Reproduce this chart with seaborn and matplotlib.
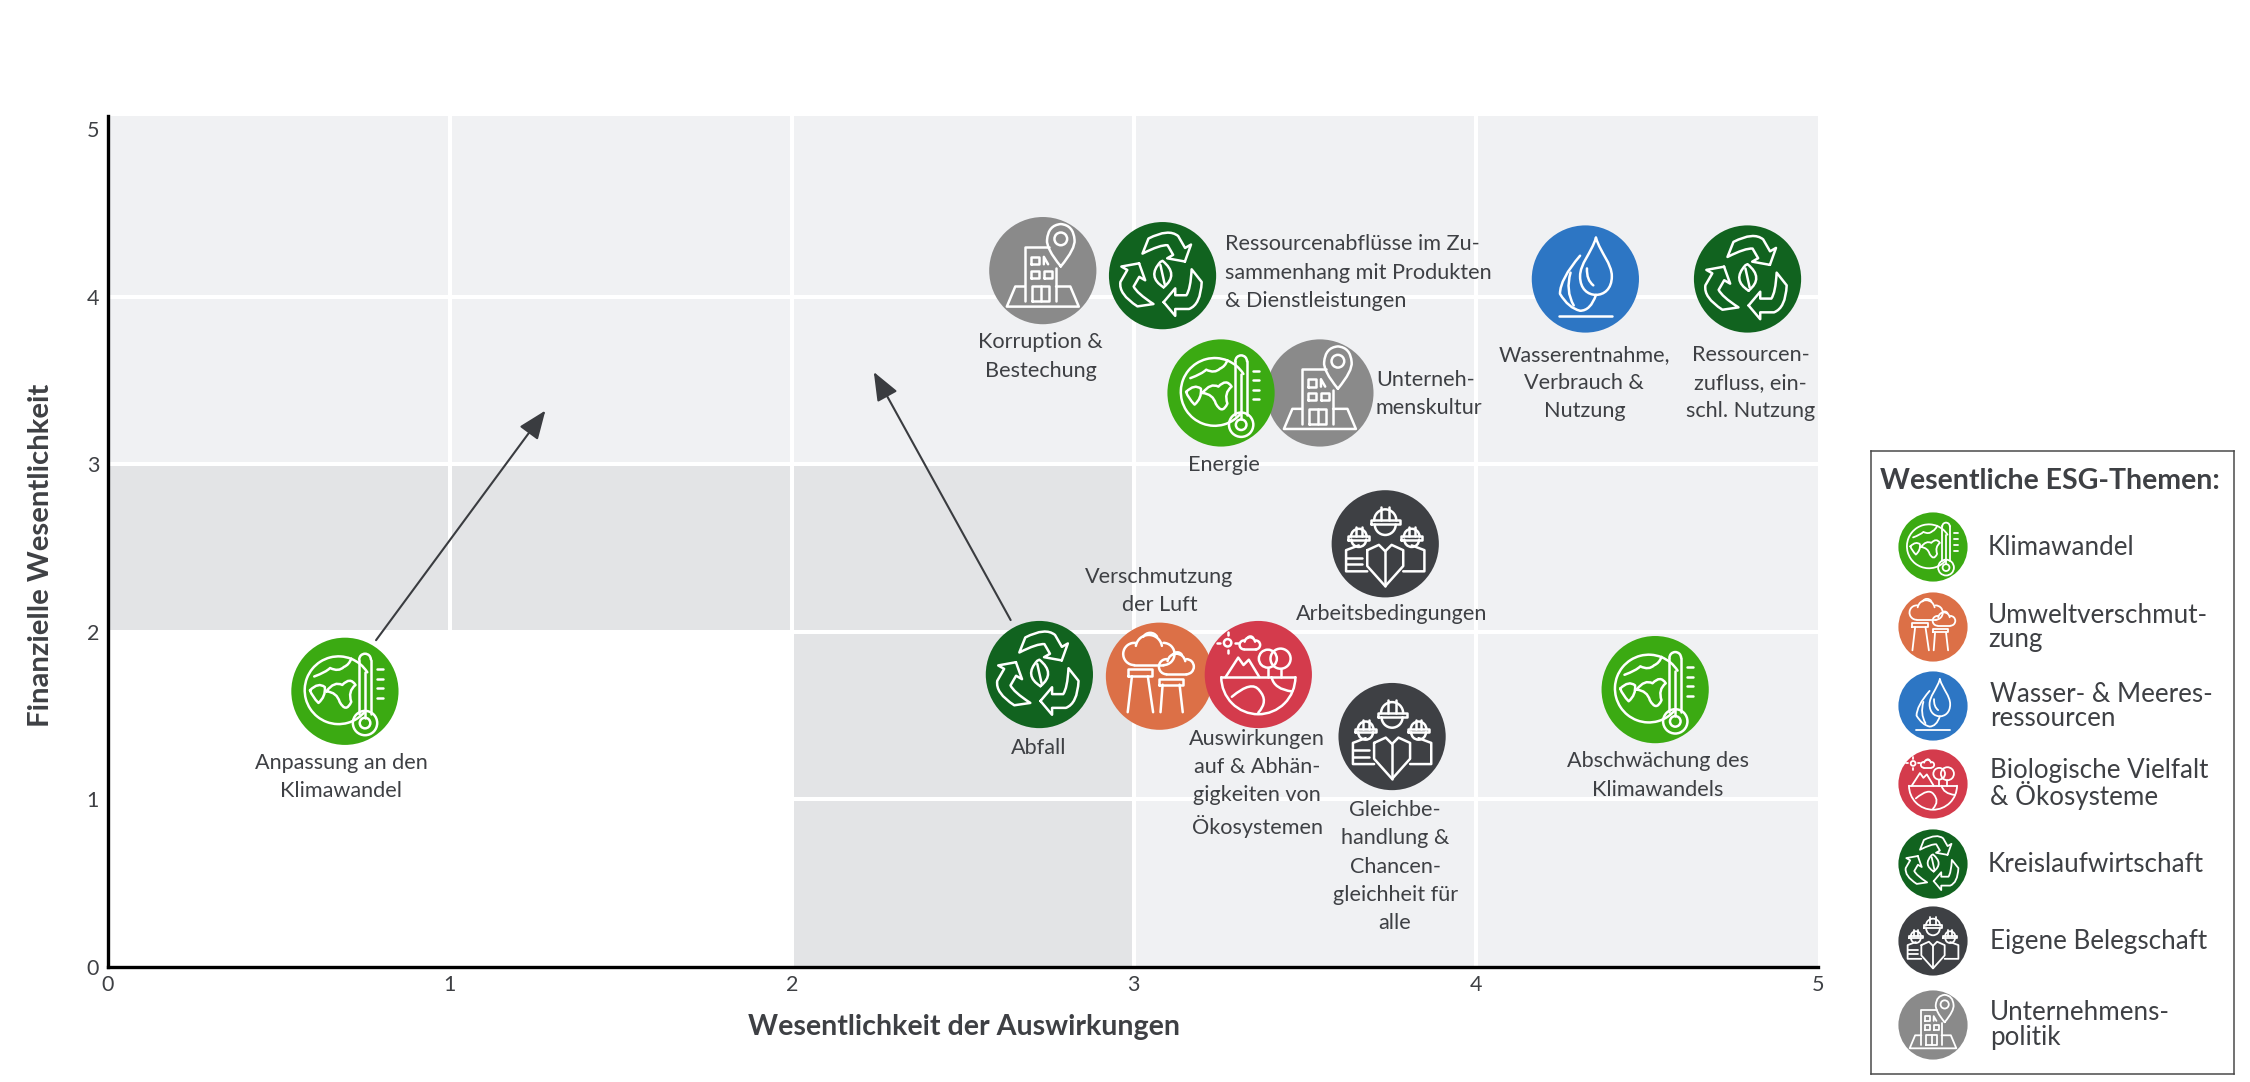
import numpy as np
import pandas as pd
import matplotlib
matplotlib.use("Agg")
import matplotlib.pyplot as plt
import seaborn as sns
from matplotlib.colors import ListedColormap
from matplotlib.patches import PathPatch
from matplotlib.path import Path
from matplotlib.transforms import Affine2D

# ---------- data ----------
topics = ["Anpassung an den\nKlimawandel", "Korruption &\nBestechung",
          "Ressourcenabflüsse im Zu-\nsammenhang mit Produkten\n& Dienstleistungen",
          "Wasserentnahme,\nVerbrauch &\nNutzung", "Ressourcen-\nzufluss, ein-\nschl. Nutzung",
          "Unterneh-\nmenskultur", "Energie", "Arbeitsbedingungen",
          "Verschmutzung\nder Luft", "Auswirkungen\nauf & Abhän-\ngigkeiten von\nÖkosystemen",
          "Abfall", "Gleichbe-\nhandlung &\nChancen-\ngleichheit für\nalle",
          "Abschwächung des\nKlimawandels"]
impact = [0.694, 2.734, 3.084, 4.32, 4.794, 3.544, 3.255, 3.735, 3.075, 3.364, 2.724, 3.755, 4.524]
financial = [1.645, 4.155, 4.125, 4.105, 4.105, 3.425, 3.425, 2.525, 1.735, 1.745, 1.745, 1.375, 1.655]
groups = ["Klimawandel", "Unternehmenspolitik", "Kreislaufwirtschaft", "Wasser", "Kreislaufwirtschaft",
          "Unternehmenspolitik", "Klimawandel", "Belegschaft", "Umwelt", "Bio", "Kreislaufwirtschaft",
          "Belegschaft", "Klimawandel"]
legend_keys = ["Klimawandel", "Umwelt", "Wasser", "Bio", "Kreislaufwirtschaft", "Belegschaft", "Unternehmenspolitik"]
legend_labels = ["Klimawandel", "Umweltverschmut-\nzung", "Wasser- & Meeres-\nressourcen",
                 "Biologische Vielfalt\n& Ökosysteme", "Kreislaufwirtschaft", "Eigene Belegschaft",
                 "Unternehmens-\npolitik"]
legend_title = "Wesentliche ESG-Themen:"
xlabel = "Wesentlichkeit der Auswirkungen"
ylabel = "Finanzielle Wesentlichkeit"
ticks = [0, 1, 2, 3, 4, 5]
arrow_starts = [(0.785, 1.95), (2.64, 2.07)]
arrow_ends = [(1.28, 3.32), (2.24, 3.55)]
# background bands: 0 white, 1 light, 2 darker; rows run from y=0 upward
zones = [[0, 0, 2, 1, 1],
         [0, 0, 2, 1, 1],
         [2, 2, 2, 1, 1],
         [1, 1, 1, 1, 1],
         [1, 1, 1, 1, 1]]

# ---------- styles ----------
palette = {"Klimawandel": "#3BAA12", "Umwelt": "#DC7047", "Wasser": "#2D76C4", "Bio": "#D43B4C",
           "Kreislaufwirtschaft": "#11631F", "Belegschaft": "#3E4044", "Unternehmenspolitik": "#8A8A8A"}
TXT = "#3E4044"
# label offset from bubble centre in full-size px (dx, dy downward) and alignment
label_layout = [(-4, 86, "center"), (-2, 86, "center"), (62, -3, "left"), (-1, 104, "center"),
                (3, 104, "center"), (56, 1, "left"), (3, 72, "center"), (6, 70, "center"),
                (0, -85, "center"), (-1, 109, "center"), (-1, 73, "center"), (3, 130, "center"),
                (3, 86, "center")]

sns.set_theme(style="white")
plt.rcParams["font.family"] = ["Lato", "DejaVu Sans"]
W, H = 2250, 1082
fig = plt.figure(figsize=(W / 100, H / 100), dpi=100, facecolor="white")
x0, x5, y0, ytop = 107.5, 1818, 967, 116
ax = fig.add_axes([x0 / W, 1 - y0 / H, (x5 - x0) / W, (y0 - ytop) / H])
ax.set_xlim(0, 5)
ax.set_ylim(0, (y0 - ytop) / 167.6)

# ---------- icons (unit circle coordinates, y up) ----------
def poly(*pts, close=False):
    v = list(pts) + ([pts[0]] if close else [])
    return Path(v, [Path.MOVETO] + [Path.LINETO] * (len(v) - 1))

def circ(cx, cy, r):
    return Path.circle((cx, cy), r)

def rect(a, b, c, d):
    return poly((a, b), (c, b), (c, d), (a, d), close=True)

def arc(cx, cy, r, a, b):
    return Path.arc(a, b).transformed(Affine2D().scale(r).translate(cx, cy))

def smooth(*pts):
    v = list(pts)
    if (len(v) - 1) % 2:
        v.append(v[-1])
    return Path(v, [Path.MOVETO] + [Path.CURVE3] * (len(v) - 1))

def drop(cx, cy, w, h):
    k = Path.CURVE4
    v = [(cx, cy + h), (cx - w * .3, cy + h * .45), (cx - w, cy + h * .1), (cx - w, cy - h * .35),
         (cx - w, cy - h * .8), (cx - w * .5, cy - h), (cx, cy - h),
         (cx + w * .5, cy - h), (cx + w, cy - h * .8), (cx + w, cy - h * .35),
         (cx + w, cy + h * .1), (cx + w * .3, cy + h * .45), (cx, cy + h)]
    return Path(v, [Path.MOVETO] + [k] * 12)

def cloud(cx, cy, s):
    return [arc(cx - .55 * s, cy, .42 * s, 80, 270), arc(cx, cy + .22 * s, .5 * s, 10, 170),
            arc(cx + .55 * s, cy, .42 * s, -90, 90), arc(cx + .05 * s, cy + .5 * s, .3 * s, 30, 150),
            poly((cx - .55 * s, cy - .42 * s), (cx + .55 * s, cy - .42 * s))]

def worker(cx, cy, s):
    return [arc(cx, cy + .02 * s, .19 * s, 0, 180), rect(cx - .25 * s, cy - .05 * s, cx + .25 * s, cy + .03 * s),
            arc(cx, cy - .05 * s, .18 * s, 180, 360),
            poly((cx - .07 * s, cy + .03 * s), (cx - .07 * s, cy + .25 * s)),
            poly((cx + .07 * s, cy + .03 * s), (cx + .07 * s, cy + .25 * s))]

_arm = Path([(.02, -.5), (.24, -.76), (.24, -.63), (.5, -.63), (.72, -.55), (.74, -.12), (.55, .12),
             (.53, -.26), (.45, -.37), (.24, -.37), (.24, -.24), (.02, -.5)],
            [Path.MOVETO, Path.LINETO, Path.LINETO, Path.LINETO, Path.CURVE3, Path.CURVE3, Path.LINETO,
             Path.CURVE3, Path.CURVE3, Path.LINETO, Path.LINETO, Path.LINETO])

ICONS = {
    "Klimawandel": [
        arc(-.12, .02, .64, 32, 322),
        smooth((-.58, .28), (-.36, .36), (-.28, .44), (-.12, .36), (-.02, .46), (.08, .5), (.12, .62)),
        smooth((-.66, .02), (-.5, .18), (-.38, .08), (-.36, -.1), (-.5, -.22), (-.62, -.1), (-.66, .02)),
        smooth((-.35, .0), (-.2, .2), (-.05, .12), (.1, .28), (.2, .12), (.05, .0), (.12, -.2), (.02, -.42), (-.1, -.2), (-.15, -.02), (-.35, .0)),
        poly((.27, -.42), (.27, .6)), arc(.38, .6, .11, 0, 180), poly((.49, .6), (.49, -.42)),
        circ(.38, -.6, .23), circ(.38, -.6, .1), poly((.38, -.5), (.38, .36)),
        poly((.6, .42), (.72, .42)), poly((.6, .24), (.72, .24)), poly((.6, .06), (.72, .06)), poly((.6, -.12), (.72, -.12)),
    ],
    "Umwelt": [
        poly((-.6, -.68), (-.52, .0)), poly((-.12, -.68), (-.22, .0)), rect(-.6, .0, -.14, .13),
        poly((.02, -.68), (.06, -.16)), poly((.44, -.68), (.38, -.16)), rect(.0, -.16, .44, -.06),
    ] + cloud(-.2, .42, .5) + cloud(.32, .18, .34),
    "Wasser": [
        drop(.2, .24, .3, .54), smooth((.03, .2), (.02, -.02), (.15, -.12)),
        smooth((-.1, .44), (-.48, .0), (-.48, -.28), (-.32, -.55), (-.1, -.6), (.1, -.6), (.2, -.3)),
        smooth((-.28, .12), (-.38, -.22), (-.22, -.5)),
        poly((-.5, -.7), (.5, -.7)),
    ],
    "Bio": [
        poly((-.7, -.05), (.7, -.05)),
        arc(0, -.05, .7, 180, 360),
        smooth((-.5, -.42), (-.12, -.1), (.02, -.3), (.2, -.5), (.0, -.72)),
        smooth((.25, -.05), (.3, -.28), (.64, -.32)),
        poly((-.62, -.05), (-.38, .32), (-.28, .18), (-.18, .28), (.02, -.05)),
        circ(.18, .3, .17), circ(.42, .3, .19), poly((.18, .13), (.18, -.05)), poly((.42, .11), (.42, -.05)),
        circ(-.58, .6, .07),
        poly((-.58, .74), (-.58, .8)), poly((-.58, .4), (-.58, .46)), poly((-.78, .6), (-.72, .6)), poly((-.44, .6), (-.38, .6)),
    ] + cloud(-.16, .56, .2),
    "Kreislaufwirtschaft": [
        _arm, _arm.transformed(Affine2D().rotate_deg(120)), _arm.transformed(Affine2D().rotate_deg(240)),
        Path([(.02, -.22), (-.3, -.02), (-.04, .26), (.0, .28), (.32, .02), (.02, -.22)],
             [Path.MOVETO, Path.CURVE3, Path.CURVE3, Path.LINETO, Path.CURVE3, Path.CURVE3]),
        poly((-.04, .2), (.04, -.16)),
    ],
    "Belegschaft": worker(0, .42, 1.1) + worker(-.5, .12, .78) + worker(.5, .12, .78) + [
        poly((-.34, -.12), (-.34, -.42), (0, -.8), (.34, -.42), (.34, -.12), (.12, -.02), (0, -.14), (-.12, -.02), close=True),
        poly((0, -.8), (0, -.14)),
        poly((-.34, -.52), (-.74, -.52), (-.74, -.12), (-.5, -.03)), poly((.34, -.52), (.74, -.52), (.74, -.12), (.5, -.03)),
        poly((-.74, -.26), (-.44, -.26)), poly((-.74, -.38), (-.44, -.38)),
    ],
    "Unternehmenspolitik": [
        poly((-.34, -.58), (-.34, .45), (.12, .45)), poly((.25, -.58), (.25, .05)), rect(-.22, .12, -.08, .26), poly((.02, .12), (.02, .26), (.1, .12)),
        rect(-.22, -.14, -.08, 0), rect(.03, -.14, .17, 0),
        rect(-.2, -.58, .12, -.3), poly((-.04, -.58), (-.04, -.3)),
        poly((-.34, -.3), (-.52, -.3), (-.68, -.68), (.68, -.68), (.52, -.3), (.25, -.3)),
        Path([(.34, .08), (.06, .42), (.08, .58), (.1, .86), (.34, .88), (.58, .86), (.6, .58), (.62, .42), (.34, .08)],
             [Path.MOVETO] + [Path.CURVE3] * 8),
        circ(.34, .6, .12),
    ],
}

def draw_icon(target, kind, cx, cy, r, z=5, lw=1.8):
    tr = Affine2D().scale(r * .98).translate(cx, cy)
    for p in ICONS[kind]:
        target.add_patch(PathPatch(p, fc="none", ec="white", lw=lw, transform=tr, clip_on=False,
                                   zorder=z, capstyle="round", joinstyle="round"))

# ---------- background ----------
xe = np.arange(6)
ye = np.array([0, 1, 2, 3, 4, ax.get_ylim()[1]])
ax.pcolormesh(xe, ye, np.array(zones), cmap=ListedColormap(["#FFFFFF", "#F0F1F3", "#E3E4E6"]),
              vmin=0, vmax=2, zorder=0, linewidth=0)
for v in ticks[1:-1]:
    ax.axvline(v, color="white", lw=2.9, zorder=1)
    ax.axhline(v, color="white", lw=2.9, zorder=1)

# ---------- bubbles ----------
df = pd.DataFrame({"x": impact, "y": financial, "group": groups, "topic": topics})
sns.scatterplot(data=df, x="x", y="y", hue="group", palette=palette, s=5960, linewidth=0,
                legend=False, ax=ax, clip_on=False, zorder=3)

fig.canvas.draw()
for (x, y, g, t), (dx, dy, ha) in zip(zip(impact, financial, groups, topics), label_layout):
    cx, cy = ax.transData.transform((x, y))
    draw_icon(ax, g, cx, cy, 54)
    ax.annotate(t, (x, y), xytext=(dx * .72, -dy * .72), textcoords="offset points", ha=ha, va="center",
                fontsize=15.6, color=TXT, linespacing=1.52, zorder=6, annotation_clip=False)

for s, e in zip(arrow_starts, arrow_ends):
    ax.annotate("", xy=e, xytext=s, zorder=4,
                arrowprops=dict(arrowstyle="-|>,head_length=1.25,head_width=0.5", color="#3A3C40", lw=1.5,
                                shrinkA=0, shrinkB=0, mutation_scale=14))

# ---------- axes ----------
sns.despine(ax=ax)
for sp in ("left", "bottom"):
    ax.spines[sp].set_linewidth(2.4)
    ax.spines[sp].set_color("black")
    ax.spines[sp].set_zorder(7)
ax.set_xticks(ticks)
ax.set_yticks(ticks)
ax.tick_params(length=0, labelsize=15.5, labelcolor=TXT, pad=6)
ax.set_xlabel("")
ax.set_ylabel("")
fig.text(964 / W, 1 - 1027 / H, xlabel, ha="center", va="center", fontsize=20.6, fontweight="bold", color=TXT)
fig.text(41 / W, 1 - 555 / H, ylabel, ha="center", va="center", rotation=90, fontsize=21.2, fontweight="bold", color=TXT)

# ---------- legend panel ----------
lx0, lx1, ly0, ly1 = 1871, 2234, 451, 1074
lax = fig.add_axes([lx0 / W, 1 - ly1 / H, (lx1 - lx0) / W, (ly1 - ly0) / H])
lax.set_xlim(lx0, lx1)
lax.set_ylim(ly1, ly0)
lax.set_xticks([]); lax.set_yticks([]); lax.set_xlabel(""); lax.set_ylabel("")
for sp in lax.spines.values():
    sp.set_color("#4A4A4A"); sp.set_linewidth(1.1)
lax.text(2050, 481, legend_title, ha="center", va="center", fontsize=20.5, fontweight="bold", color=TXT)
row_y = [547, 627, 706, 784, 864, 941, 1025]
label_x = [1988, 1988, 1990, 1990, 1988, 1990, 1990]
ldf = pd.DataFrame({"k": legend_keys, "x": [1933] * 7, "y": row_y})
sns.scatterplot(data=ldf, x="x", y="y", hue="k", palette=palette, s=2480, linewidth=0, legend=False, ax=lax, clip_on=False, zorder=3)
lax.set_xlabel(""); lax.set_ylabel("")
lax.set_xlim(lx0, lx1); lax.set_ylim(ly1, ly0)
fig.canvas.draw()
for k, lab, ry, lxp in zip(legend_keys, legend_labels, row_y, label_x):
    cx, cy = lax.transData.transform((1933, ry))
    draw_icon(lax, k, cx, cy, 35, lw=1.3)
    lax.text(lxp, ry, lab, ha="left", va="center", fontsize=18.7, color=TXT, linespacing=0.95)

fig.savefig("out.png", dpi=100, facecolor="white")
